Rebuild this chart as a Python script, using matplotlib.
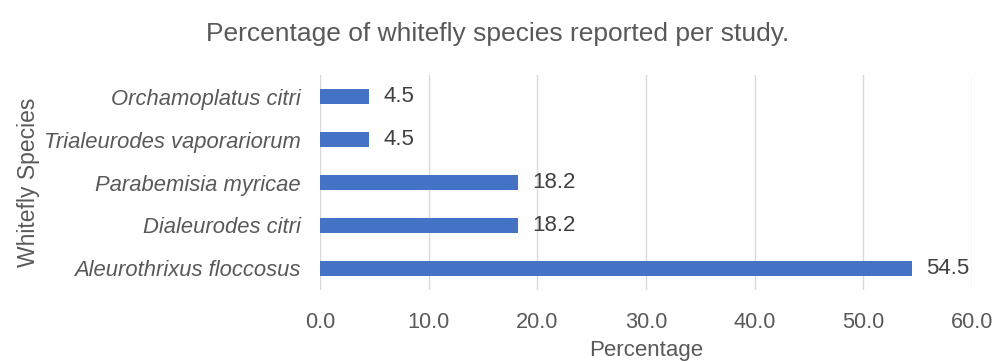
import matplotlib.pyplot as plt

plt.rcParams['font.family'] = ['Liberation Sans', 'DejaVu Sans']

species = ['Aleurothrixus floccosus', 'Dialeurodes citri', 'Parabemisia myricae',
           'Trialeurodes vaporariorum', 'Orchamoplatus citri']
percent = [54.5, 18.2, 18.2, 4.5, 4.5]
xticks = [0, 10, 20, 30, 40, 50, 60]

grey = '#595959'

fig = plt.figure(figsize=(9.95, 3.61), dpi=100)
ax = fig.add_axes([0.3216, 0.1967, 0.6553, 0.5955])

ypos = range(len(species))
ax.barh(ypos, percent, height=0.33, color='#4472C4', zorder=3)
for y, v in zip(ypos, percent):
    ax.text(v + 1.3, y, f'{v:.1f}', va='center', ha='left', fontsize=16, color='#404040')

ax.set_xlim(0, 60)
ax.set_ylim(-0.5, len(species) - 0.5)
ax.set_xticks(xticks)
ax.set_xticklabels([f'{t:.1f}' for t in xticks], fontsize=15.7, color=grey)
ax.set_yticks(list(ypos))
ax.set_yticklabels(species, fontsize=15.8, color=grey, style='italic')
ax.tick_params(length=0, pad=14)
ax.tick_params(axis='x', pad=16)
ax.grid(axis='x', color='#D9D9D9', linewidth=1, zorder=0)
for s in ax.spines.values():
    s.set_visible(False)

ax.set_xlabel('Percentage', fontsize=16, color=grey, labelpad=5)
ax.set_ylabel('Whitefly Species', fontsize=16.5, color=grey, labelpad=3)
fig.text(0.5, 0.905, 'Percentage of whitefly species reported per study.',
         ha='center', va='center', fontsize=19, color=grey)

fig.savefig('out.png', dpi=100)
